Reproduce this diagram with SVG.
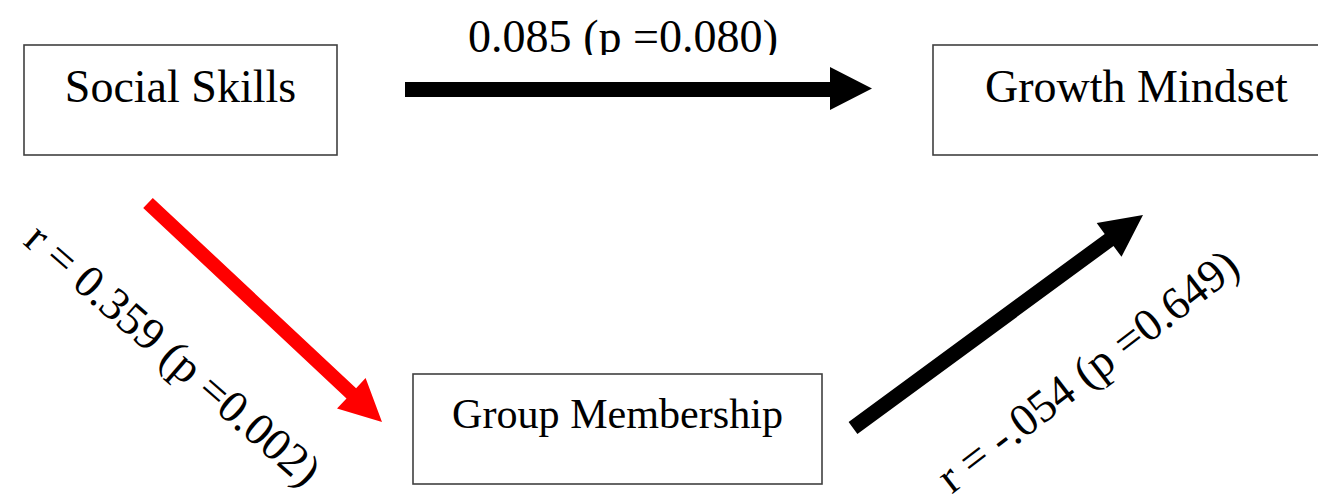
<svg xmlns="http://www.w3.org/2000/svg" width="1318" height="494" viewBox="0 0 1318 494">
  <defs>
    <style>
      .box { fill: #ffffff; stroke: #404040; stroke-width: 1.6; }
      .lbl { font-family: "Liberation Serif", "Times New Roman", serif; fill: #000000; }
      .node { font-size: 46px; text-anchor: middle; }
      .edge { font-size: 46px; text-anchor: middle; }
    </style>
    <clipPath id="topclip">
      <rect x="400" y="0" width="450" height="55"/>
    </clipPath>
  </defs>
  <rect x="0" y="0" width="1318" height="494" fill="#ffffff"/>

  <g id="node-social-skills">
    <rect class="box" x="24" y="45" width="313" height="110"/>
    <text class="lbl node" x="180.5" y="102">Social Skills</text>
  </g>

  <g id="node-growth-mindset">
    <rect class="box" x="933" y="45" width="410" height="110"/>
    <text class="lbl node" x="1136.5" y="102">Growth Mindset</text>
  </g>

  <g id="node-group-membership">
    <rect class="box" x="413" y="374" width="409" height="110"/>
    <text class="lbl node" x="617.5" y="428" style="font-size:43px" textLength="331" lengthAdjust="spacingAndGlyphs">Group Membership</text>
  </g>

  <g id="connectors">
    <polygon fill="#000000" points="405,82 830,82 830,67 872,88.5 830,110 830,97 405,97"/>
    <polygon fill="#ff0000" points="152.8,197.9 356.1,388.2 365.6,378 382,422 337,408.6 346.5,398.4 143.2,208.1"/>
    <polygon fill="#000000" points="848.6,422 1104.7,233.9 1096.7,223 1143,215 1121.5,256.8 1113.5,246 857.4,434.1"/>
    <g clip-path="url(#topclip)">
      <text class="lbl edge" x="623" y="52" textLength="310" lengthAdjust="spacingAndGlyphs">0.085 (p =0.080)</text>
    </g>
    <text class="lbl edge" transform="translate(163,366) rotate(41)">r = 0.359 (p =0.002)</text>
    <text class="lbl edge" transform="translate(1097,383) rotate(-37.5)">r = -.054 (p =0.649)</text>
  </g>
</svg>
